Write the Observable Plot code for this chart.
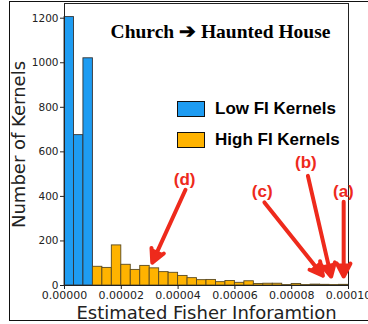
<!DOCTYPE html>
<html>
<head>
<meta charset="utf-8">
<script src="https://cdn.jsdelivr.net/npm/d3@7"></script>
<script src="https://cdn.jsdelivr.net/npm/@observablehq/plot@0.6"></script>
<style>
  html, body { margin: 0; padding: 0; background: #fff; overflow: hidden; }
  #wrap { position: relative; width: 368px; height: 324px; overflow: hidden; }
  #wrap svg { position: absolute; left: 0; top: 0; overflow: visible; }
  #outer { position: absolute; left: 9px; top: 1px; width: 420px; height: 318px; border: 1.5px solid #111; pointer-events: none; }
  .leg { position: absolute; display: flex; align-items: center; font-family: "Liberation Sans", Arial, sans-serif; font-weight: bold; font-size: 17px; color: #000; }
  .sw { width: 26px; height: 14px; border: 1.5px solid #111; margin-right: 10px; }
</style>
</head>
<body>
<div id="wrap">
  <div id="outer"></div>
</div>
<script>
// ---- data ----
const xMax = 0.0001;
const nBins = 30;
const lowCounts = [1205, 675, 1020];            // Low FI kernels (first 3 bins)
const highCounts = [84, 79, 180, 93, 70, 88, 77, 60, 57, 43, 33, 24, 25, 15,
                    20, 12, 19, 7, 8, 8, 2, 7, 2, 4, 3, 2, 3]; // High FI kernels
const xTicks = [0, 0.00002, 0.00004, 0.00006, 0.00008, 0.0001];
const yTicks = [0, 200, 400, 600, 800, 1000, 1200];
const yMax = 1266;
const title = "Church \u2794 Haunted House";
const xLabel = "Estimated Fisher Inforamtion";
const yLabel = "Number of Kernels";
const legendLabels = ["Low FI Kernels", "High FI Kernels"];
const colors = ["#1e9cf2", "#ffb300"];
// annotations (data units)
const annLabels = ["(a)", "(b)", "(c)", "(d)"];
const annLabelX = [0.0000982, 0.0000850, 0.0000696, 0.0000423];
const annLabelY = [422, 552, 422, 476];
const annFromX = [0.0000983, 0.0000857, 0.0000704, 0.0000426];
const annFromY = [376, 492, 373, 430];
const annToX = [0.0000983, 0.0000939, 0.0000910, 0.0000309];
const annToY = [40, 40, 44, 103];

// ---- build tables ----
const binWidth = xMax / nBins;
const lowBars = lowCounts.map((c, i) => ({x1: i * binWidth, x2: (i + 1) * binWidth, count: c}));
const highBars = highCounts.map((c, i) => ({x1: (i + lowCounts.length) * binWidth, x2: (i + lowCounts.length + 1) * binWidth, count: c}));
const ann = annLabels.map((l, i) => ({label: l, lx: annLabelX[i], ly: annLabelY[i], x1: annFromX[i], y1: annFromY[i], x2: annToX[i], y2: annToY[i]}));

const red = "#ee2a1c";

const chart = Plot.plot({
  width: 368,
  height: 324,
  marginLeft: 64,
  marginRight: 20,
  marginTop: 3,
  marginBottom: 39,
  style: {fontFamily: "'DejaVu Sans', sans-serif", background: "transparent", overflow: "visible"},
  x: {domain: [0, xMax]},
  y: {domain: [0, yMax]},
  marks: [
    Plot.rectY(lowBars, {x1: "x1", x2: "x2", y: "count", fill: colors[0], stroke: "#333", strokeWidth: 0.9, inset: 0}),
    Plot.rectY(highBars, {x1: "x1", x2: "x2", y: "count", fill: colors[1], stroke: "#5a4a20", strokeWidth: 0.9, inset: 0}),
    Plot.frame({stroke: "#222", strokeWidth: 1}),
    Plot.axisY({ticks: yTicks, tickFormat: d3.format("d"), tickSize: 4, tickPadding: 2, fontSize: 10.5, label: null, color: "#222"}),
    Plot.axisX({ticks: xTicks, tickFormat: d3.format(".5f"), tickSize: 4, tickPadding: 2, fontSize: 11, label: null, color: "#222"}),
    Plot.text([xLabel], {frameAnchor: "bottom", lineAnchor: "middle", textAnchor: "middle", dy: 27.5, fontSize: 18, fill: "#222"}),
    Plot.text([yLabel], {frameAnchor: "left", lineAnchor: "middle", textAnchor: "middle", rotate: -90, dx: -45, fontSize: 18, fill: "#222"}),
    Plot.text([title], {frameAnchor: "top", lineAnchor: "middle", textAnchor: "middle", dx: 14, dy: 28, fontSize: 19.5, fontWeight: "bold", fontFamily: "'Liberation Serif', 'Times New Roman', serif", fill: "#000"}),
    Plot.arrow(ann, {x1: "x1", y1: "y1", x2: "x2", y2: "y2", stroke: red, fill: red, strokeWidth: 4, headLength: 5.5, headAngle: 55}),
    Plot.text(ann, {x: "lx", y: "ly", text: "label", fill: red, fontSize: 17, fontWeight: "bold", fontFamily: "'Liberation Sans', Arial, sans-serif"})
  ]
});

const wrap = document.getElementById("wrap");
wrap.insertBefore(chart, wrap.firstChild);

// legend (HTML overlay)
const legTops = [100, 131];
legendLabels.forEach((l, i) => {
  const d = document.createElement("div");
  d.className = "leg";
  d.style.left = "177px";
  d.style.top = legTops[i] + "px";
  d.style.height = "17px";
  const sw = document.createElement("div");
  sw.className = "sw";
  sw.style.background = colors[i];
  d.appendChild(sw);
  const t = document.createElement("span");
  t.textContent = l;
  d.appendChild(t);
  wrap.appendChild(d);
});
</script>
</body>
</html>
